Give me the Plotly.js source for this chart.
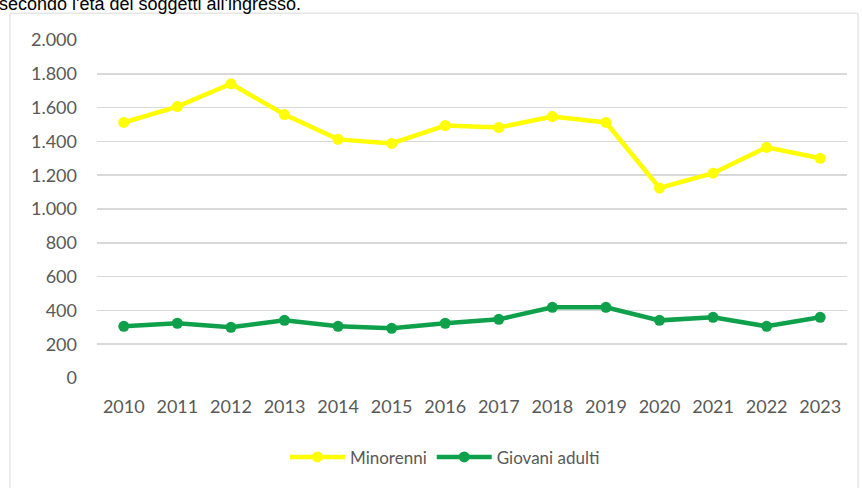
<!DOCTYPE html>
<html>
<head>
<meta charset="utf-8">
<script src="https://cdn.plot.ly/plotly-3.0.1.min.js"></script>
<style>html,body{margin:0;padding:0;background:#fff;}#chart{width:862px;height:488px;}</style>
</head>
<body>
<div id="chart"></div>
<script>
const years = ["2010","2011","2012","2013","2014","2015","2016","2017","2018","2019","2020","2021","2022","2023"];
const minorenni = [1512, 1606, 1741, 1559, 1412, 1388, 1494, 1482, 1547, 1512, 1124, 1212, 1365, 1300];
const giovaniAdulti = [306, 324, 300, 341, 306, 294, 324, 347, 418, 418, 341, 359, 306, 359];
const yTickVals = [0, 200, 400, 600, 800, 1000, 1200, 1400, 1600, 1800, 2000];
const yTickText = ["0", "200", "400", "600", "800", "1.000", "1.200", "1.400", "1.600", "1.800", "2.000"];

const traces = [
  {x: years, y: minorenni, name: "Minorenni", type: "scatter", mode: "lines+markers",
   line: {color: "#FFFF00", width: 4.5}, marker: {color: "#FFFF00", size: 11}},
  {x: years, y: giovaniAdulti, name: "Giovani adulti", type: "scatter", mode: "lines+markers",
   line: {color: "#0FA04B", width: 4.5}, marker: {color: "#0FA04B", size: 11}}
];

const layout = {
  width: 862, height: 488,
  margin: {l: 97, r: 15, t: 40, b: 108},
  paper_bgcolor: "#fff", plot_bgcolor: "#fff",
  font: {family: "Lato, 'Open Sans', sans-serif", color: "#595959", size: 18},
  showlegend: true,
  legend: {orientation: "h", x: 0.464, xanchor: "center", y: -0.235, yanchor: "middle",
           font: {size: 17, color: "#595959"}, itemwidth: 55, tracegroupgap: 0},
  xaxis: {type: "category", range: [-0.5, 13.5], showgrid: false, zeroline: false, showline: false,
          ticks: "", ticklabelstandoff: 16, tickfont: {size: 18, color: "#595959"}, fixedrange: true},
  yaxis: {range: [0, 2000], tickvals: yTickVals, ticktext: yTickText, showgrid: true,
          gridcolor: "#D9D9D9", gridwidth: 1.5, zeroline: false, showline: false, ticks: "",
          ticklabelstandoff: 19, tickfont: {size: 18, color: "#595959"}, fixedrange: true},
  shapes: [
    {type: "rect", xref: "paper", yref: "paper", x0: -0.116, x1: 1.0147, y0: -0.6, y1: 1.0794,
     line: {color: "#D9D9D9", width: 1}, fillcolor: "rgba(0,0,0,0)", layer: "below"}
  ],
  annotations: [
    {text: "secondo l'età dei soggetti all'ingresso.", xref: "paper", yref: "paper",
     x: -0.133, y: 1.106, xanchor: "left", yanchor: "middle", showarrow: false,
     font: {family: "Liberation Sans, Arial, sans-serif", size: 18, color: "#000"}}
  ]
};

Plotly.newPlot("chart", traces, layout, {displayModeBar: false, staticPlot: true});
</script>
</body>
</html>
